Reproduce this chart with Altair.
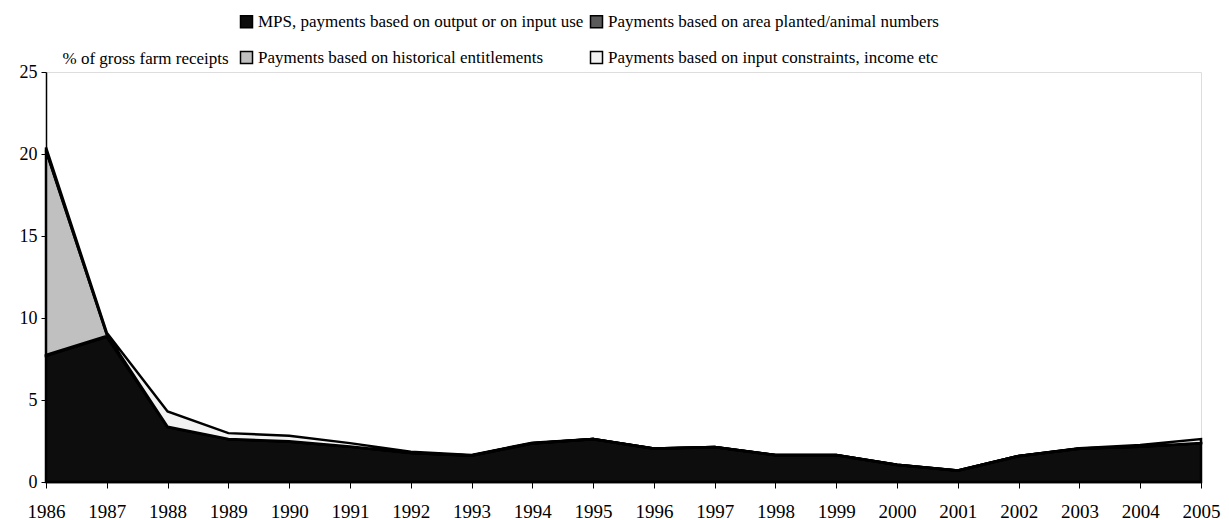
import altair as alt
import pandas as pd

years = list(range(1986, 2006))
series_names = [
    "MPS, payments based on output or on input use",
    "Payments based on area planted/animal numbers",
    "Payments based on historical entitlements",
    "Payments based on input constraints, income etc",
]
mps = [7.7, 8.85, 3.35, 2.6, 2.46, 2.15, 1.77, 1.6, 2.35, 2.6, 2.03, 2.12, 1.63, 1.63, 1.03, 0.68, 1.57, 2.02, 2.15, 2.36]
area_planted = [0.05, 0.05, 0.02, 0.02, 0.02, 0.02, 0.02, 0.02, 0.02, 0.02, 0.02, 0.02, 0.02, 0.02, 0.02, 0.02, 0.02, 0.02, 0.02, 0.02]
historical = [12.45, 0.1, 0.0, 0.0, 0.0, 0.0, 0.0, 0.0, 0.0, 0.0, 0.0, 0.0, 0.0, 0.0, 0.0, 0.0, 0.0, 0.0, 0.0, 0.0]
input_constraints = [0.2, 0.1, 0.93, 0.36, 0.34, 0.2, 0.06, 0.03, 0.03, 0.0, 0.0, 0.0, 0.0, 0.0, 0.0, 0.0, 0.0, 0.02, 0.08, 0.24]
colors = ["#0d0d0d", "#5a5a5a", "#c0c0c0", "#f2f2f2"]
y_ticks = [0, 5, 10, 15, 20, 25]

FONT = "Liberation Serif"

rows = []
for i, name in enumerate(series_names):
    vals = [mps, area_planted, historical, input_constraints][i]
    for y, v in zip(years, vals):
        rows.append({"year": y, "series": name, "value": v, "order": i})
df = pd.DataFrame(rows)

chart = (
    alt.Chart(df)
    .mark_area(stroke="black", strokeWidth=2.5, strokeJoin="miter", interpolate="linear", opacity=1)
    .encode(
        x=alt.X(
            "year:Q",
            scale=alt.Scale(domain=[1986, 2005], nice=False, zero=False),
            axis=alt.Axis(
                values=years, format="d", title=None, grid=False,
                domainColor="black", domainWidth=1.5, tickColor="black", tickSize=6,
                labelFontSize=19, labelColor="black", labelPadding=14,
                labelFont=FONT, labelOverlap=False, labelFlush=False,
            ),
        ),
        y=alt.Y(
            "value:Q",
            stack="zero",
            scale=alt.Scale(domain=[0, 25], nice=False),
            axis=alt.Axis(
                values=y_ticks, title="% of gross farm receipts", grid=False,
                domainColor="black", domainWidth=1.5, tickColor="black", tickSize=5,
                labelFontSize=18, labelColor="black", labelPadding=4,
                labelFont=FONT,
                titleAngle=0, titleX=16, titleY=-14, titleAlign="left", titleBaseline="middle",
                titleFont=FONT, titleFontSize=17, titleFontWeight="normal",
                titleColor="black",
            ),
        ),
        color=alt.Color(
            "series:N",
            scale=alt.Scale(domain=series_names, range=colors),
            legend=alt.Legend(
                orient="none", legendX=192, legendY=-59, columns=2, direction="horizontal",
                title=None,
                symbolType="square", symbolSize=144, symbolStrokeColor="black",
                symbolStrokeWidth=1.5, symbolOpacity=1,
                labelFont=FONT, labelFontSize=17, labelColor="black",
                labelLimit=0, columnPadding=3, rowPadding=17, labelOffset=3,
            ),
        ),
        order=alt.Order("order:Q"),
    )
    .properties(
        width=1155, height=410,
        padding={"left": 38, "top": 64, "right": 20, "bottom": 45},
        autosize=alt.AutoSizeParams(type="none"),
    )
    .configure_view(stroke="#808080", strokeWidth=2.5)
    .configure(font=FONT, background="white")
)

chart.save("out.html", embed_options={"renderer": "svg", "actions": False})
